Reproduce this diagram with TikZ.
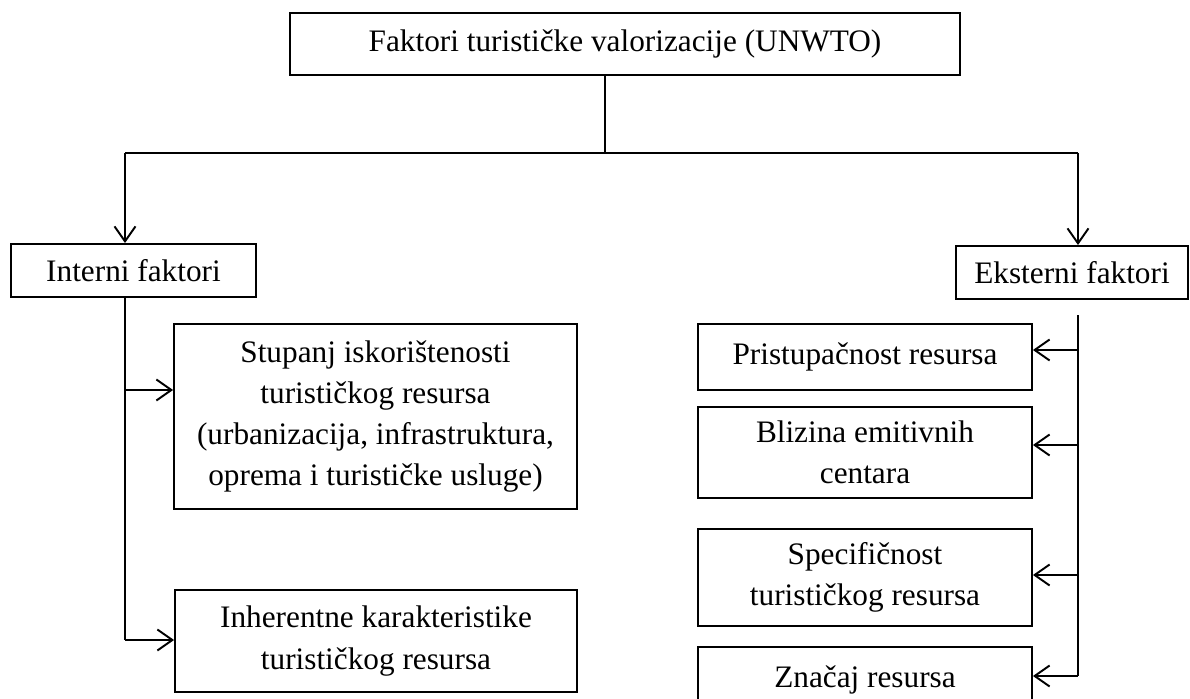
\documentclass[tikz,border=0pt]{standalone}
\usepackage{fontspec}
\setmainfont{Liberation Serif}
\usepackage{tikz}
\usetikzlibrary{arrows.meta}

\begin{document}
\begin{tikzpicture}[x=0.02cm, y=-0.02cm, line width=1.1pt, main node/.style={draw, rectangle, align=center, inner sep=0pt, font=\fontsize{17.8}{23.5}\selectfont}, arr/.style={-{Straight Barb[length=0.3cm,width=0.42cm]}}]
\clip (0,0) rectangle (1190,699);
\node[main node, minimum width=13.4cm, minimum height=1.24cm] (1) at (625,44) {Faktori turističke valorizacije (UNWTO)};
\node[main node, minimum width=4.9cm, minimum height=1.06cm] (2) at (133.5,270.5) {Interni faktori};
\node[main node, minimum width=4.64cm, minimum height=1.06cm] (3) at (1072,272.5) {Eksterni faktori};
\node[main node, minimum width=8.06cm, minimum height=3.7cm] (4) at (375.5,416.5) {Stupanj iskorištenosti\\turističkog resursa\\(urbanizacija, infrastruktura,\\oprema i turističke usluge)};
\node[main node, minimum width=8.04cm, minimum height=2.04cm] (5) at (376,641) {Inherentne karakteristike\\turističkog resursa};
\node[main node, minimum width=6.68cm, minimum height=1.32cm] (6) at (865,357) {Pristupačnost resursa};
\node[main node, minimum width=6.68cm, minimum height=1.82cm] (7) at (865,452.5) {Blizina emitivnih\\centara};
\node[main node, minimum width=6.68cm, minimum height=1.94cm] (8) at (865,577.5) {Specifičnost\\turističkog resursa};
\node[main node, minimum width=6.68cm, minimum height=1.3cm] (9) at (865,679.5) {Značaj resursa};
% razdvajanje na dvije grane
\coordinate (c) at (605,153);
\coordinate (l) at (125,153);
\coordinate (r) at (1078,153);
\draw (c |- 1.south) -- (c);
\draw (l) -- (r);
\draw[arr] (l) -- (l |- 2.north);
\draw[arr] (r) -- (r |- 3.north);
% interni
\coordinate (a1) at (125,390);
\coordinate (a2) at (125,640);
\draw (l |- 2.south) -- (a2);
\draw[arr] (a1) -- (a1 -| 4.west);
\draw[arr] (a2) -- (a2 -| 5.west);
% eksterni
\coordinate (t) at (1078,315);
\coordinate (b1) at (1078,350);
\coordinate (b2) at (1078,445);
\coordinate (b3) at (1078,575);
\coordinate (b4) at (1078,676);
\draw (t) -- (b4);
\draw[arr] (b1) -- (b1 -| 6.east);
\draw[arr] (b2) -- (b2 -| 7.east);
\draw[arr] (b3) -- (b3 -| 8.east);
\draw[arr] (b4) -- (b4 -| 9.east);
\end{tikzpicture}
\end{document}
